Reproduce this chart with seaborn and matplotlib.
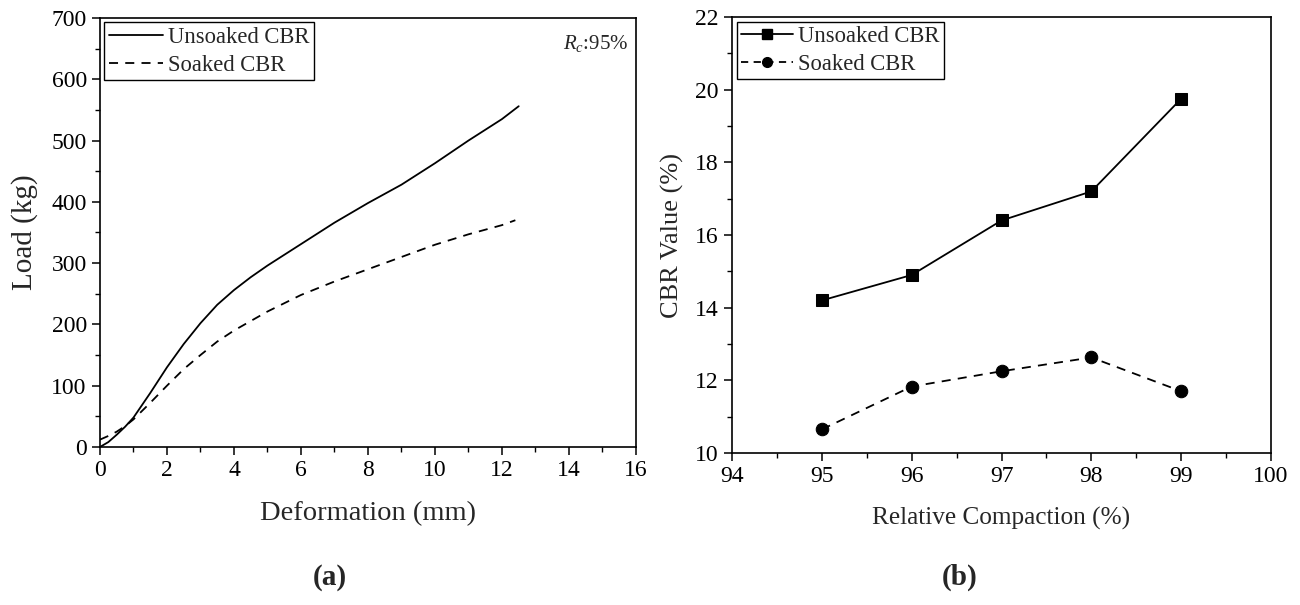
import numpy as np
import pandas as pd
import matplotlib
matplotlib.use("Agg")
import matplotlib.pyplot as plt
import seaborn as sns
from matplotlib.ticker import MultipleLocator
from matplotlib.lines import Line2D

# ---- data (a) load-deformation curves ----
deform_unsoaked = [0, 0.25, 0.5, 0.75, 1.0, 1.5, 2.0, 2.5, 3.0, 3.5, 4.0, 4.5, 5.0, 6.0, 7.0, 8.0, 9.0, 10.0, 11.0, 12.0, 12.5]
load_unsoaked = [0, 8, 20, 33, 48, 88, 130, 168, 202, 232, 256, 277, 296, 331, 366, 398, 428, 463, 500, 535, 556]
deform_soaked = [0, 0.25, 0.5, 0.75, 1.0, 1.5, 2.0, 2.5, 3.0, 3.5, 4.0, 5.0, 6.0, 7.0, 8.0, 9.0, 10.0, 11.0, 12.0, 12.4]
load_soaked = [12, 18, 25, 34, 45, 72, 100, 127, 150, 172, 190, 221, 248, 270, 290, 310, 330, 347, 362, 370]

# ---- data (b) CBR vs relative compaction ----
compaction = [95, 96, 97, 98, 99]
cbr_unsoaked = [14.2, 14.9, 16.4, 17.2, 19.75]
cbr_soaked = [10.65, 11.83, 12.25, 12.63, 11.7]

sns.set_style("ticks")
plt.rcParams['font.family'] = ['Liberation Serif', 'DejaVu Serif']
plt.rcParams['mathtext.fontset'] = 'custom'
plt.rcParams['mathtext.rm'] = 'Liberation Serif'
plt.rcParams['mathtext.it'] = 'Liberation Serif:italic'

fig = plt.figure(figsize=(13, 6.05), dpi=100)
ax1 = fig.add_axes([0.0769, 0.2612, 0.4123, 0.7091])
ax2 = fig.add_axes([0.5631, 0.2512, 0.4146, 0.7207])

df_u = pd.DataFrame({"x": deform_unsoaked, "y": load_unsoaked})
df_s = pd.DataFrame({"x": deform_soaked, "y": load_soaked})
sns.lineplot(data=df_u, x="x", y="y", ax=ax1, color="black", lw=1.3, sort=True)
sns.lineplot(data=df_s, x="x", y="y", ax=ax1, color="black", lw=1.3, linestyle=(0, (5, 4)), sort=True)

ax1.set_xlim(0, 16)
ax1.set_ylim(0, 700)
ax1.xaxis.set_major_locator(MultipleLocator(2))
ax1.xaxis.set_minor_locator(MultipleLocator(1))
ax1.yaxis.set_major_locator(MultipleLocator(100))
ax1.yaxis.set_minor_locator(MultipleLocator(50))
ax1.set_xlabel("Deformation (mm)", fontsize=20.5, labelpad=14)
ax1.set_ylabel("Load (kg)", fontsize=21, labelpad=10)
h1 = [Line2D([], [], color="black", lw=1.3),
      Line2D([], [], color="black", lw=1.3, linestyle=(0, (5, 4)))]
ax1.legend(h1, ["Unsoaked CBR", "Soaked CBR"], loc="upper left", fontsize=16.3,
           frameon=True, fancybox=False, edgecolor="black", framealpha=1,
           borderaxespad=0.2, handlelength=2.4, handletextpad=0.2, borderpad=0.2,
           labelspacing=0.3)
ax1.text(0.985, 0.965, r"$R_c$:95%", transform=ax1.transAxes, ha="right", va="top", fontsize=15)

df_b = pd.DataFrame({"x": compaction * 2,
                     "y": cbr_unsoaked + cbr_soaked,
                     "s": ["Unsoaked CBR"] * 5 + ["Soaked CBR"] * 5})
sns.lineplot(data=df_b[df_b.s == "Unsoaked CBR"], x="x", y="y", ax=ax2, color="black", lw=1.3,
             marker="s", markersize=9, markeredgecolor="black")
sns.lineplot(data=df_b[df_b.s == "Soaked CBR"], x="x", y="y", ax=ax2, color="black", lw=1.3,
             linestyle=(0, (5, 4)), marker="o", markersize=9, markeredgecolor="black")
ax2.set_xlim(94, 100)
ax2.set_ylim(10, 22)
ax2.xaxis.set_major_locator(MultipleLocator(1))
ax2.xaxis.set_minor_locator(MultipleLocator(0.5))
ax2.yaxis.set_major_locator(MultipleLocator(2))
ax2.yaxis.set_minor_locator(MultipleLocator(1))
ax2.set_xlabel("Relative Compaction (%)", fontsize=18.2, labelpad=14)
ax2.set_ylabel("CBR Value (%)", fontsize=19, labelpad=8)
h2 = [Line2D([], [], color="black", lw=1.3, marker="s", markersize=7),
      Line2D([], [], color="black", lw=1.3, linestyle=(0, (4, 3)), marker="o", markersize=7)]
ax2.legend(h2, ["Unsoaked CBR", "Soaked CBR"], loc="upper left", fontsize=16.3,
           frameon=True, fancybox=False, edgecolor="black", framealpha=1,
           borderaxespad=0.2, handlelength=2.3, handletextpad=0.2, borderpad=0.2,
           labelspacing=0.3)

for ax in (ax1, ax2):
    for sp in ax.spines.values():
        sp.set_visible(True)
        sp.set_color("black")
        sp.set_linewidth(1.2)
    ax.tick_params(which="major", direction="out", length=6, width=1.1, labelsize=17,
                   top=False, right=False, color="black", labelcolor="black")
    ax.tick_params(which="minor", direction="out", length=3.5, width=1.0,
                   top=False, right=False, color="black")
    ax.grid(False)

fig.text(0.2538, 0.046, "(a)", ha="center", va="center", fontsize=21, fontweight="bold")
fig.text(0.7385, 0.046, "(b)", ha="center", va="center", fontsize=21, fontweight="bold")

fig.savefig("out.png", dpi=100)
